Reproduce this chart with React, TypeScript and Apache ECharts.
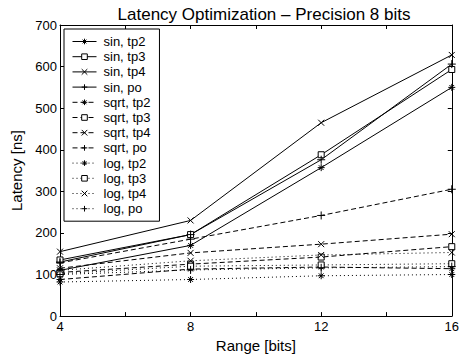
import React, { useEffect, useRef } from "react";
import * as echarts from "echarts";

const ranges = [4, 8, 12, 16];
const xTickLabels = ["4", "8", "12", "16"];

const sinTp2 = [110, 170, 357, 550];
const sinTp3 = [135, 196, 388, 593];
const sinTp4 = [155, 230, 465, 628];
const sinPo = [130, 196, 376, 606];
const sqrtTp2 = [88, 113, 118, 114];
const sqrtTp3 = [105, 125, 142, 167];
const sqrtTp4 = [115, 152, 173, 197];
const sqrtPo = [128, 185, 242, 305];
const logTp2 = [82, 88, 97, 100];
const logTp3 = [102, 120, 123, 126];
const logTp4 = [110, 133, 147, 153];
const logPo = [100, 111, 116, 119];

const seriesNames = [
  "sin, tp2", "sin, tp3", "sin, tp4", "sin, po",
  "sqrt, tp2", "sqrt, tp3", "sqrt, tp4", "sqrt, po",
  "log, tp2", "log, tp3", "log, tp4", "log, po",
];
const seriesValues = [
  sinTp2, sinTp3, sinTp4, sinPo,
  sqrtTp2, sqrtTp3, sqrtTp4, sqrtPo,
  logTp2, logTp3, logTp4, logPo,
];

const STAR = "path://M5,0L5,10M0,5L10,5M1.6,1.6L8.4,8.4M8.4,1.6L1.6,8.4";
const SQUARE = "path://M0,0L10,0L10,10L0,10Z";
const CROSS = "path://M0,0L10,10M10,0L0,10";
const PLUS = "path://M5,0L5,10M0,5L10,5";
const symbols = [STAR, SQUARE, CROSS, PLUS];
const symbolSizes = [7, 6, 6, 8];
const symbolFills = ["#000", "#fff", "#000", "#000"];
const dashTypes: any[] = ["solid", [5, 3], [1, 3]];

const FONT = "Liberation Sans, Arial, Helvetica, sans-serif";

export default function App() {
  const ref = useRef<HTMLDivElement>(null);
  useEffect(() => {
    if (!ref.current) return;
    const chart = echarts.init(ref.current, undefined, { renderer: "svg" });
    const series = seriesNames.map((name, i) => {
      const kind = i % 4;
      const family = Math.floor(i / 4);
      return {
        name,
        type: "line",
        data: ranges.map((x, j) => [x, seriesValues[i][j]]),
        symbol: symbols[kind],
        symbolSize: symbolSizes[kind],
        showAllSymbol: true,
        lineStyle: { color: "#000", width: 1, type: dashTypes[family] },
        itemStyle: { color: symbolFills[kind], borderColor: "#000", borderWidth: 1 },
        emphasis: { disabled: true },
        z: 2,
      };
    });
    const axisCommon = {
      axisLine: { show: true, onZero: false, lineStyle: { color: "#000", width: 1 } },
      axisTick: { show: true, inside: true, length: 4, lineStyle: { color: "#000" } },
      splitLine: { show: false },
    };
    chart.setOption({
      animation: false,
      backgroundColor: "#fff",
      title: {
        text: "Latency Optimization \u2013 Precision 8 bits",
        left: 259,
        top: 1,
        textAlign: "center",
        textStyle: { fontFamily: FONT, fontSize: 17, fontWeight: "normal", color: "#000" },
      },
      legend: {
        orient: "vertical",
        left: 64,
        top: 29,
        padding: [6, 9, 6, 8],
        itemWidth: 24,
        itemHeight: 7,
        itemGap: 2.2,
        backgroundColor: "#fff",
        borderColor: "#000",
        borderWidth: 1,
        borderRadius: 0,
        itemStyle: { borderWidth: 1, borderColor: "#000" },
        lineStyle: { width: 1 },
        textStyle: { fontFamily: FONT, fontSize: 13, color: "#000", lineHeight: 13, padding: [0, 0, 0, 2] },
        data: seriesNames,
        z: 10,
      },
      grid: { left: 60, right: 4, top: 25, bottom: 37, containLabel: false },
      xAxis: [
        {
          type: "value",
          min: 4,
          max: 16,
          interval: 2,
          position: "bottom",
          name: "Range [bits]",
          nameLocation: "middle",
          nameGap: 17,
          nameTextStyle: { fontFamily: FONT, fontSize: 15, color: "#000" },
          axisLabel: {
            fontFamily: FONT,
            fontSize: 13,
            color: "#000",
            margin: 4,
            formatter: (v: number) => (xTickLabels.includes(String(v)) ? String(v) : ""),
          },
          ...axisCommon,
        },
        {
          type: "value",
          min: 4,
          max: 16,
          interval: 2,
          position: "top",
          axisLabel: { show: false },
          ...axisCommon,
        },
      ],
      yAxis: [
        {
          type: "value",
          min: 0,
          max: 700,
          interval: 100,
          position: "left",
          name: "Latency [ns]",
          nameLocation: "middle",
          nameGap: 30,
          nameTextStyle: { fontFamily: FONT, fontSize: 15, color: "#000" },
          axisLabel: { fontFamily: FONT, fontSize: 13, color: "#000", margin: 3 },
          ...axisCommon,
        },
        {
          type: "value",
          min: 0,
          max: 700,
          interval: 100,
          position: "right",
          axisLabel: { show: false },
          ...axisCommon,
        },
      ],
      series,
    });
    return () => chart.dispose();
  }, []);
  return (
    <div
      ref={ref}
      style={{ position: "fixed", left: 0, top: 0, width: 462, height: 358, background: "#fff" }}
    />
  );
}
